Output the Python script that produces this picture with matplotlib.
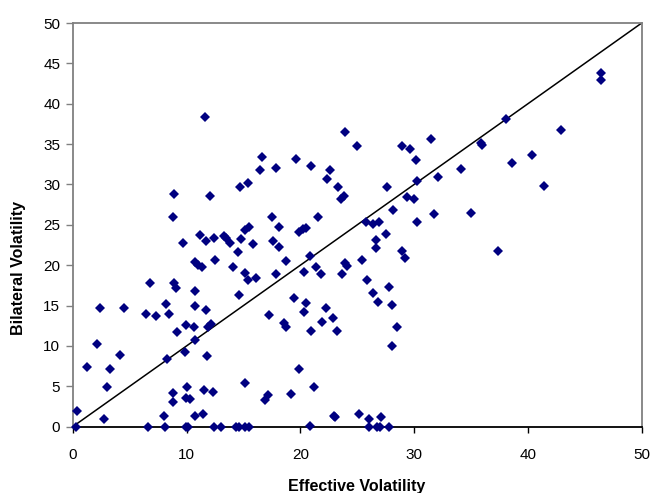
import matplotlib.pyplot as plt

plt.rcParams['font.family'] = ['Liberation Sans', 'DejaVu Sans']

# Effective vs bilateral volatility
effective = [
    11.65, 8.93, 12.07, 14.73, 15.38, 16.5, 16.6, 8.81,
    11.16, 11.69, 12.42, 13.27, 13.5, 13.82, 14.76, 9.69, 15.17, 15.5, 15.87, 14.5,
    10.72, 11.04, 11.36, 12.5, 14.1, 15.17, 15.38, 16.1, 6.79, 8.93, 9.1, 10.78,
    14.6, 2.37, 4.5, 6.47, 7.35, 8.22, 8.43, 10.78, 11.69, 9.93, 10.69, 11.86,
    12.15, 9.17, 10.72, 2.17, 4.13, 8.31, 9.84, 11.77, 1.29, 3.25, 3.01, 10.0,
    15.14, 8.84, 11.54, 12.33, 8.81, 9.93, 10.31, 0.41, 2.72, 8.05, 10.75, 11.48,
    0.25, 6.59, 8.08, 9.93, 10.16, 12.39, 13.06, 14.38, 14.61, 15.11, 15.47,
    23.93, 25.0, 28.9, 29.64, 31.5, 30.14, 32.1, 30.25, 27.65, 29.4, 29.99, 28.15,
    31.72, 17.86, 19.62, 20.97, 22.58, 22.35, 23.31, 23.8, 23.6, 17.49, 21.58,
    18.13, 19.89, 20.21, 20.5, 25.77, 26.42, 26.95, 30.25, 27.53, 26.65, 26.65,
    17.63, 18.13, 20.85, 18.74, 20.33, 21.35, 21.82, 17.84, 23.96, 24.1, 23.7,
    25.42, 28.9, 29.2, 25.9, 27.82, 26.4, 26.8, 28.03, 19.47, 20.47, 20.35, 22.23,
    22.85, 21.93, 17.25, 18.6, 18.74, 20.94, 23.2, 28.53, 28.03, 19.86, 21.2,
    17.14, 16.87, 19.21, 22.93, 23.07, 25.16, 26.04, 27.06, 20.85, 26.04, 26.71,
    27.03, 27.82,
    46.4, 46.4, 38.08, 35.85, 35.99, 42.9, 40.4, 38.58, 34.12, 41.45, 34.97, 37.35,
]
bilateral = [
    38.4, 28.8, 28.6, 29.7, 30.2, 31.8, 33.35, 25.95,
    23.7, 22.97, 23.35, 23.6, 23.4, 22.8, 23.2, 22.8, 24.4, 24.7, 22.6, 21.6,
    20.4, 20.0, 19.75, 20.7, 19.8, 19.0, 18.2, 18.4, 17.8, 17.8, 17.15, 16.86,
    16.3, 14.7, 14.7, 14.0, 13.7, 15.2, 14.0, 14.9, 14.4, 12.6, 12.3, 12.4,
    12.76, 11.7, 10.7, 10.3, 8.9, 8.4, 9.2, 8.76, 7.4, 7.2, 4.9, 4.9,
    5.4, 4.2, 4.5, 4.34, 3.06, 3.6, 3.4, 1.9, 1.0, 1.36, 1.36, 1.57,
    0, 0, 0, 0, 0, 0, 0, 0, 0, 0, 0,
    36.5, 34.8, 34.8, 34.4, 35.65, 33.0, 30.9, 30.4, 29.7, 28.5, 28.25, 26.85,
    26.36, 32.0, 33.2, 32.35, 31.8, 30.7, 29.7, 28.6, 28.2, 25.98, 26.0,
    24.75, 24.1, 24.5, 24.66, 25.3, 25.1, 25.4, 25.3, 23.9, 23.1, 22.1,
    23.0, 22.3, 21.2, 20.5, 19.2, 19.8, 18.96, 18.96, 20.25, 19.9, 18.96,
    20.66, 21.7, 20.85, 18.2, 17.35, 16.5, 15.45, 15.1, 15.95, 15.3, 14.2, 14.75,
    13.47, 12.93, 13.84, 12.8, 12.4, 11.9, 11.9, 12.4, 10.0, 7.15, 4.88,
    3.93, 3.27, 4.0, 1.36, 1.16, 1.57, 1.0, 1.2, 0.13, 0, 0,
    0, 0,
    43.8, 42.96, 38.1, 35.2, 34.9, 36.7, 33.7, 32.6, 31.9, 29.8, 26.5, 21.7,
]
ticks = [0, 5, 10, 15, 20, 25, 30, 35, 40, 45, 50]

fig = plt.figure(figsize=(6.51, 4.93), dpi=100)
ax = fig.add_axes([0.1117, 0.1345, 0.874, 0.8188])

ax.axline((0, 0), slope=1, color='black', lw=1.1, zorder=2)
ax.plot(effective, bilateral, linestyle='none', marker='D', markersize=5.2,
        color='#000080', markeredgewidth=0, clip_on=False, zorder=3)

ax.set_xlim(0, 50)
ax.set_ylim(0, 50)
ax.set_xticks(ticks[::2])
ax.set_yticks(ticks)

for side in ['top', 'right', 'left']:
    ax.spines[side].set_color('#808080')
    ax.spines[side].set_linewidth(1.3)
ax.spines['bottom'].set_color('black')
ax.spines['bottom'].set_linewidth(1.3)

ax.tick_params(axis='x', direction='out', length=4, width=1, pad=11, labelsize=11, colors='black')
ax.tick_params(axis='y', direction='out', length=5, width=1, pad=4, labelsize=11,
               color='#808080', labelcolor='black')

fig.text(0.548, 0.005, 'Effective Volatility', ha='center', va='baseline',
         fontsize=11.5, fontweight='bold')
fig.text(0.028, 0.456, 'Bilateral Volatility', ha='center', va='center', rotation=90,
         fontsize=11.5, fontweight='bold')

plt.savefig('out.png', dpi=100)
